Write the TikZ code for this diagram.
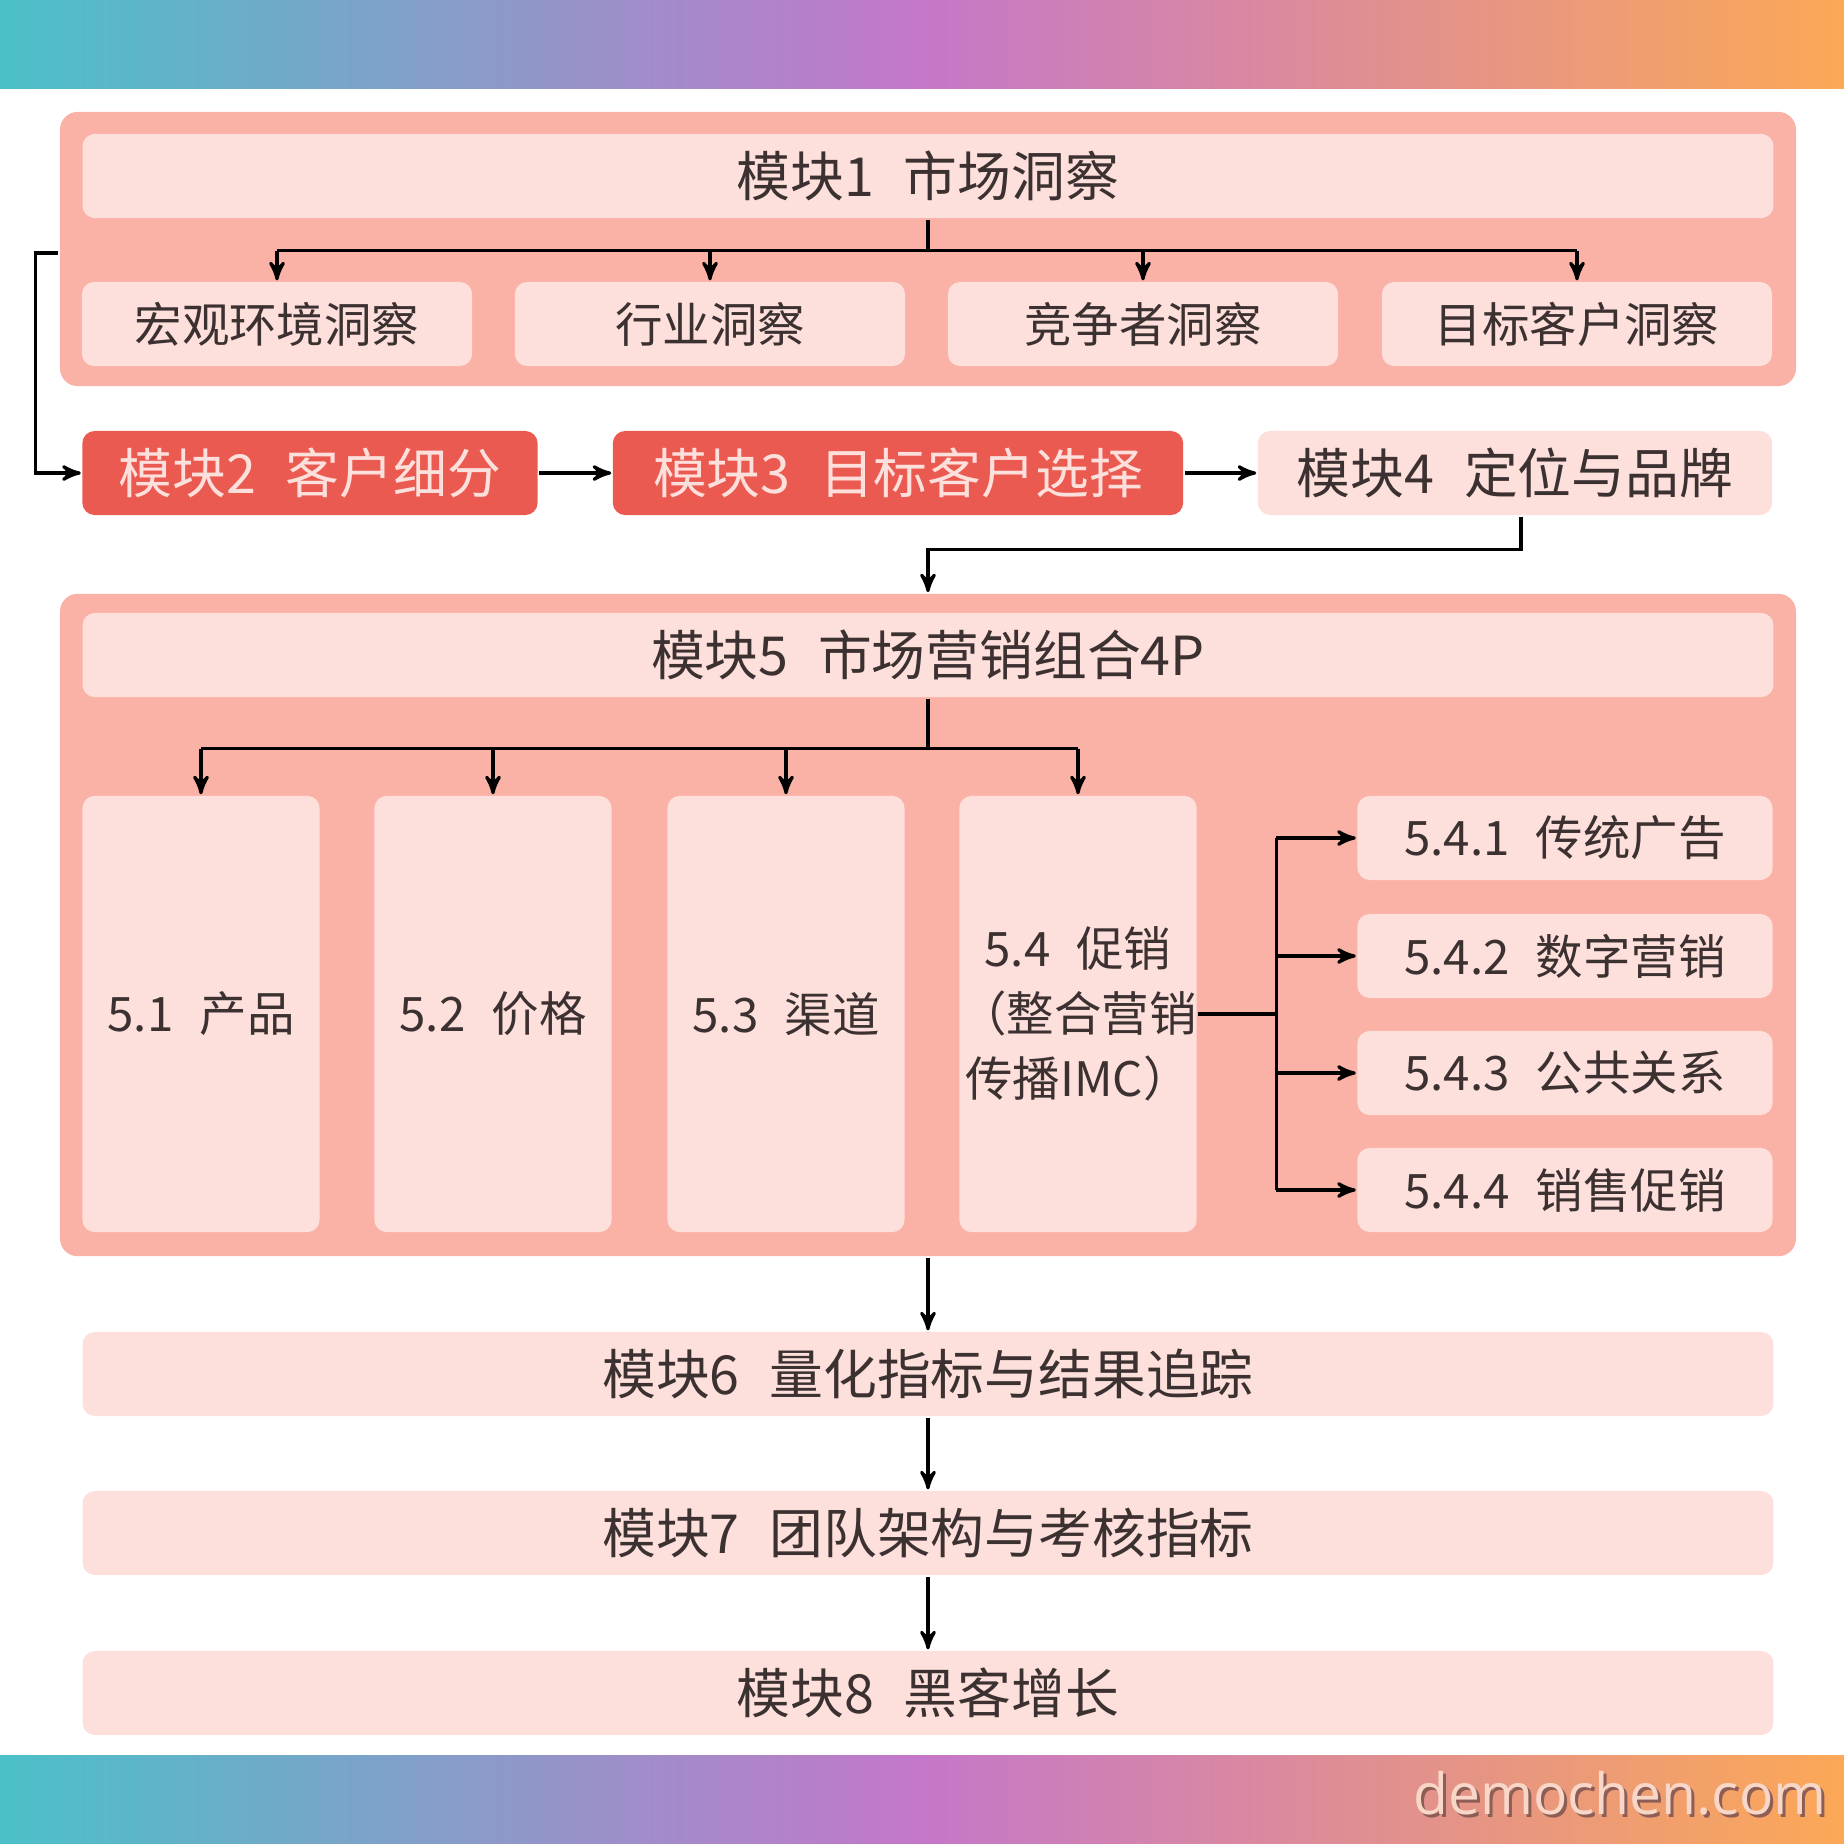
\documentclass[tikz,border=0pt]{standalone}
\usepackage{fontspec}
\setmainfont{Noto Sans CJK SC}
\newfontfamily\wmfont{Open Sans}
\usetikzlibrary{%
  arrows,%
  positioning,%
  calc%
}
\definecolor{bandL}{HTML}{4BC0C9}
\definecolor{bandM}{HTML}{C577C9}
\definecolor{bandR}{HTML}{FCA857}
\definecolor{salmon}{HTML}{FBB2A6}
\definecolor{blush}{HTML}{FDDFDB}
\definecolor{hotred}{HTML}{EA5A50}
\definecolor{ink}{HTML}{3C3131}
\definecolor{wmtext}{HTML}{F8D6C8}
\definecolor{wmshade}{HTML}{8C5E55}
\newcommand{\kg}{\hspace{0.55em}}

\begin{document}
\begin{tikzpicture}[
  x=0.01cm, y=-0.01cm,
  >=stealth',
  line width=0.9pt,
  outer/.style={rectangle, rounded corners=5pt, fill=salmon, inner sep=0pt},
  inner/.style={rectangle, rounded corners=3.5pt, fill=blush, text=ink, inner sep=0pt,
    font=\fontsize{13.5}{18.5}\selectfont},
  head/.style={inner, minimum width=16.9cm, minimum height=0.84cm,
    font=\fontsize{15.3}{18}\selectfont},
  hot/.style={head, fill=hotred, text=blush},
]
\useasboundingbox (0,0) rectangle (1844,1844);

% colour bands
\shade[left color=bandL, right color=bandR, middle color=bandM] (0,0) rectangle (1844,88);
\shade[left color=bandL, right color=bandR, middle color=bandM] (0,1755) rectangle (1844,1844);

% module 1
\node[outer, minimum width=17.35cm, minimum height=2.74cm] (m1box) at (928,249) {};
\node[head] (m1) at (928,176) {模块1\kg 市场洞察};
\foreach \n/\x/\t in {a/277/宏观环境洞察, b/710/行业洞察, c/1143/竞争者洞察, d/1577/目标客户洞察} {
  \node[inner, minimum width=3.9cm, minimum height=0.84cm] (m1\n) at (\x,324) {\t};
}
\draw (m1.south) -- ++(0,31) coordinate (j1);
\draw (m1a.north |- j1) -- (m1d.north |- j1);
\foreach \n in {a,b,c,d} {
  \draw[->] (m1\n.north |- j1) -- (m1\n.north);
}

% modules 2-4
\node[hot, minimum width=4.55cm] (m2) at (310,473) {模块2\kg 客户细分};
\node[hot, minimum width=5.7cm] (m3) at (898,473) {模块3\kg 目标客户选择};
\node[head, minimum width=5.14cm] (m4) at (1515,473) {模块4\kg 定位与品牌};
\draw[->] (m1box.west) ++(0,4) -- ++(-23,0) |- (m2.west);
\draw[->] (m2) -- (m3);
\draw[->] (m3) -- (m4);

% module 5
\node[outer, minimum width=17.35cm, minimum height=6.62cm] (m5box) at (928,925) {};
\node[head] (m5) at (928,655) {模块5\kg 市场营销组合4P};
\draw[->] ($(m4.south)+(6,0)$) -- ++(0,33) -| (m5box.north);
\foreach \n/\x/\t in {1/201/{5.1\kg 产品}, 2/493/{5.2\kg 价格}, 3/786/{5.3\kg 渠道},
    4/1078/{5.4\kg 促销\\（整合营销\\传播IMC）}} {
  \node[inner, align=center, minimum width=2.37cm, minimum height=4.36cm] (p\n) at (\x,1014) {\t};
}
\draw (m5.south) -- ++(0,50) coordinate (j5);
\draw (p1.north |- j5) -- (p4.north |- j5);
\foreach \n in {1,...,4} {
  \draw[->] (p\n.north |- j5) -- (p\n.north);
}
\foreach \n/\y/\t in {1/838/传统广告, 2/956/数字营销, 3/1073/公共关系, 4/1190/销售促销} {
  \node[inner, minimum width=4.15cm, minimum height=0.84cm] (s\n) at (1565,\y) {5.4.\n\kg \t};
}
\draw (p4.east) -- ++(78,0) coordinate (j6);
\draw (j6 |- s1) -- (j6 |- s4);
\foreach \n in {1,...,4} {
  \draw[->] (j6 |- s\n) -- (s\n.west);
}

% modules 6-8
\node[head] (m6) at (928,1374) {模块6\kg 量化指标与结果追踪};
\node[head] (m7) at (928,1533) {模块7\kg 团队架构与考核指标};
\node[head] (m8) at (928,1693) {模块8\kg 黑客增长};
\draw[->] (m5box.south) -- (m6.north);
\draw[->] (m6) -- (m7);
\draw[->] (m7) -- (m8);

% watermark
\node[anchor=base, text=wmshade, font=\wmfont\fontsize{16.2}{19}\selectfont] (wmshadow) at (1623,1817) {demochen.com};
\node[anchor=base, text=wmtext, font=\wmfont\fontsize{16.2}{19}\selectfont] (wm) at (1620,1814) {demochen.com};
\end{tikzpicture}
\end{document}
